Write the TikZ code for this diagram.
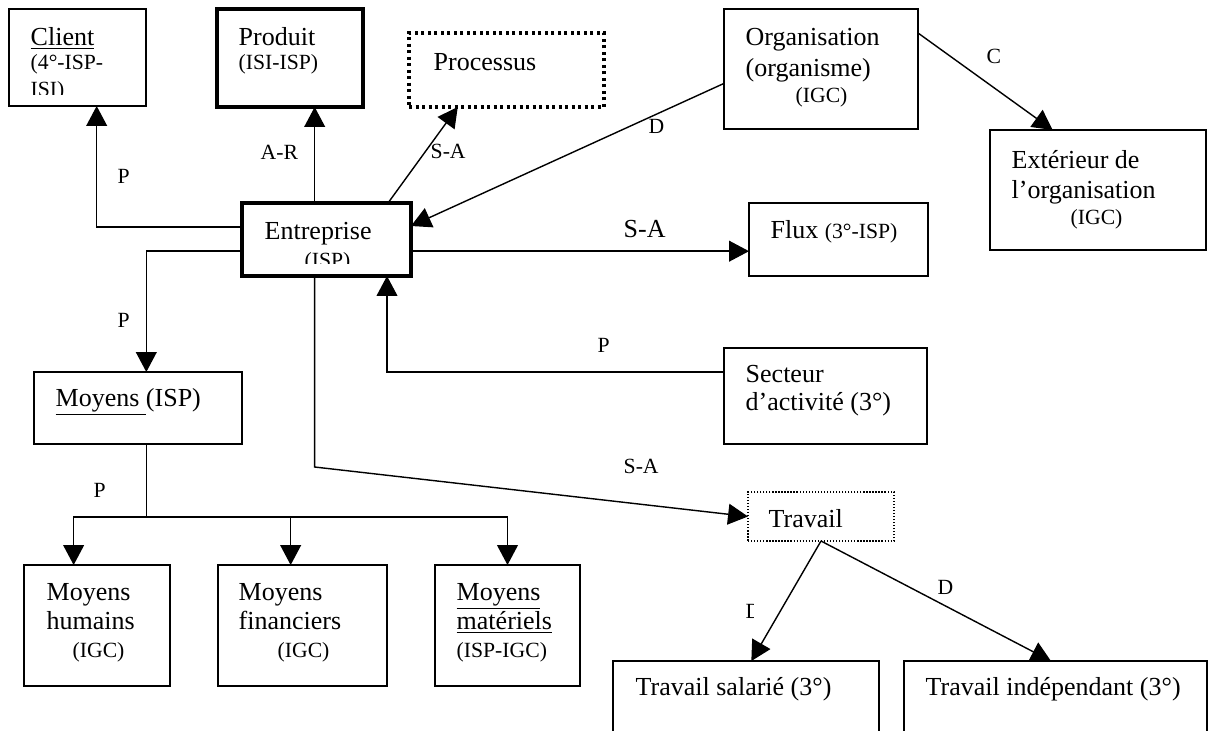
\documentclass[tikz,border=0pt]{standalone}
\usepackage{fontspec}
\setmainfont{Liberation Serif}
\usetikzlibrary{arrows.meta,calc,fit}

\tikzset{every picture/.style={line width=0.65pt},
  boite/.style={draw, line width=0.65pt, inner sep=0pt, outer sep=0pt},
  boiteforte/.style={boite, line width=1.7pt},
  pointfort/.style={boite, line width=1.4pt, dash pattern=on 1.4pt off 1.6pt},
  pointfin/.style={boite, line width=0.6pt, dash pattern=on 0.6pt off 0.8pt},
  fleche/.style={-{Triangle[length=9.2pt,width=9.6pt]}, line width=0.65pt},
  texte/.style={inner sep=0pt, anchor=base west, font=\fontsize{12}{14}\selectfont},
  petit/.style={texte, font=\fontsize{10}{12}\selectfont},
}
\newcommand{\petitpar}[1]{{\fontsize{10}{12}\selectfont #1}}

\begin{document}
\begin{tikzpicture}[x=0.4615pt,y=0.4615pt,yscale=-1,xscale=1]
\useasboundingbox (0,0) rectangle (1208,730);

%Shape: Rectangles
\node[boite, fit={(9,9) (146,106)}] (client) {};
\node[boiteforte, fit={(217,9) (363,107)}] (produit) {};
\node[pointfort, fit={(409,33) (604,107)}] (processus) {};
\node[boite, fit={(724,9) (918,129)}] (organisation) {};
\node[boite, fit={(990,130) (1206,250)}] (exterieur) {};
\node[boiteforte, fit={(242,203) (411,276)}] (entreprise) {};
\node[boite, fit={(749,203) (928,276)}] (flux) {};
\node[boite, fit={(724,348) (927,444)}] (secteur) {};
\node[boite, fit={(34,372) (242,444)}] (moyens) {};
\node[boite, fit={(24,565) (170,686)}] (humains) {};
\node[boite, fit={(218,565) (387,686)}] (financiers) {};
\node[boite, fit={(435,565) (580,686)}] (materiels) {};
\node[pointfin, fit={(748,492) (894,541)}] (travail) {};
\node[boite, fit={(613,661) (879,770)}] (salarie) {};
\node[boite, fit={(904,661) (1207,770)}] (independant) {};

%Straight Lines: around Entreprise
\draw[fleche] ($(entreprise.north west)!0.33!(entreprise.south west)$) -| ($(client.south west)!0.64!(client.south east)$);
\draw[fleche] ($(entreprise.north west)!0.43!(entreprise.north east)$) coordinate (entH) -- (entH |- produit.south);
\draw[fleche] ($(entreprise.north west)!0.864!(entreprise.north east)$) -- ($(processus.south west)!0.25!(processus.south east)$);
\draw[fleche] ($(organisation.north west)!0.62!(organisation.south west)$) -- ($(entreprise.north east)!0.315!(entreprise.south east)$);
\draw[fleche] ($(organisation.north east)!0.2!(organisation.south east)$) -- ($(exterieur.north west)!0.29!(exterieur.north east)$);
\draw[fleche] ($(entreprise.north east)!0.66!(entreprise.south east)$) coordinate (entD) -- (entD -| flux.west);
\draw[fleche] ($(secteur.north west)!0.25!(secteur.south west)$) -| ($(entreprise.south west)!0.858!(entreprise.south east)$);
\draw[fleche] ($(entreprise.north west)!0.66!(entreprise.south west)$) -| ($(moyens.north west)!0.54!(moyens.north east)$);
\draw[fleche] (entreprise.south -| entH) -- ++(0,191) -- (travail.west);

%Straight Lines: Moyens
\draw ($(moyens.south west)!0.54!(moyens.south east)$) -- ++(0,73) coordinate (bus);
\draw[fleche] (bus) -| ($(humains.north west)!0.34!(humains.north east)$);
\draw[fleche] (bus) -| ($(financiers.north west)!0.43!(financiers.north east)$);
\draw[fleche] (bus) -| (materiels.north);

%Straight Lines: Travail
\draw[fleche] (travail.south) -- ($(salarie.north west)!0.52!(salarie.north east)$);
\draw[fleche] (travail.south) -- ($(independant.north west)!0.485!(independant.north east)$);

% Text Node
\node[texte] (clientA) at (30,45) {\underline{Client}};
\begin{scope}
\clip (9,9) rectangle (146,94);
\node[petit] (clientB) at (30,69) {(4°-ISP-};
\node[petit] (clientC) at (30,96) {ISI)};
\end{scope}
% Text Node
\node[texte] (produitA) at (238,45) {Produit};
\node[petit] (produitB) at (238,69) {(ISI-ISP)};
% Text Node
\node[texte] (processusA) at (433,70) {Processus};
% Text Node
\node[texte] (organisationA) at (745,45) {Organisation};
\node[texte] (organisationB) at (745,76) {(organisme)};
\node[petit] (organisationC) at (795,102) {(IGC)};
% Text Node
\node[texte] (exterieurA) at (1011,168) {Extérieur de};
\node[texte] (exterieurB) at (1011,198) {l’organisation};
\node[petit] (exterieurC) at (1070,224) {(IGC)};
% Text Node
\node[texte] (entrepriseA) at (264,239) {Entreprise};
\begin{scope}
\clip (242,203) rectangle (411,263);
\node[petit] (entrepriseB) at (304,267) {(ISP)};
\end{scope}
% Text Node
\node[texte] (fluxA) at (770,238) {Flux \petitpar{(3°-ISP)}};
% Text Node
\node[texte] (secteurA) at (745,382) {Secteur};
\node[texte] (secteurB) at (745,410) {d’activité (3°)};
% Text Node
\node[texte] (moyensA) at (55,406) {\underline{Moyens\ }(ISP)};
% Text Node
\node[texte] (humainsA) at (46,600) {Moyens};
\node[texte] (humainsB) at (46,629) {humains};
\node[petit] (humainsC) at (72,657) {(IGC)};
% Text Node
\node[texte] (financiersA) at (238,600) {Moyens};
\node[texte] (financiersB) at (238,629) {financiers};
\node[petit] (financiersC) at (277,657) {(IGC)};
% Text Node
\node[texte] (materielsA) at (456,600) {\underline{Moyens}};
\node[texte] (materielsB) at (456,629) {\underline{matériels}};
\node[petit] (materielsC) at (456,657) {(ISP-IGC)};
% Text Node
\node[texte] (travailA) at (768,527) {Travail};
\node[texte] (salarieA) at (635,695) {Travail salarié (3°)};
\node[texte] (independantA) at (925,695) {Travail indépendant (3°)};

% Labels
\node[petit] (lienClient) at (117,183) {P};
\node[petit] (lienProduit) at (260,159) {A-R};
\node[petit] (lienProcessus) at (430,158) {S-A};
\node[petit] (lienOrganisation) at (648,133) {D};
\node[petit] (lienExterieur) at (986,63) {C};
\node[texte] (lienFlux) at (623,237) {S-A};
\node[petit] (lienSecteur) at (597,352) {P};
\node[petit] (lienMoyens) at (117,327) {P};
\node[petit] (lienBus) at (93,497) {P};
\node[petit] (lienTravail) at (623,473) {S-A};
\begin{scope}
\clip (735,595) rectangle (753,625);
\node[petit] (lienSalarie) at (745,618) {D};
\end{scope}
\node[petit] (lienIndependant) at (937,594) {D};

\end{tikzpicture}
\end{document}
